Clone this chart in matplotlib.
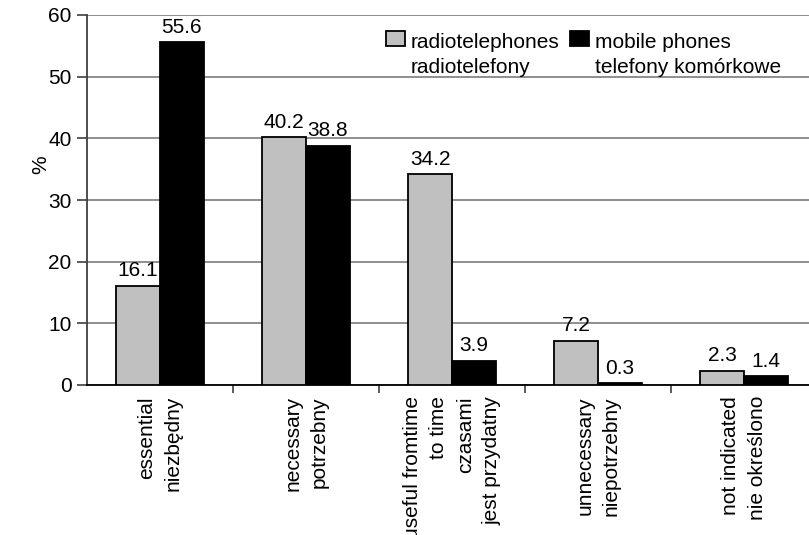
import numpy as np
import matplotlib.pyplot as plt
from matplotlib.patches import Rectangle
from matplotlib.container import BarContainer
from matplotlib.legend_handler import HandlerPatch

plt.rcParams['font.family'] = ['Liberation Sans', 'DejaVu Sans']

# Answer categories (English / Polish)
categories = [
    "essential\nniezbędny",
    "necessary\npotrzebny",
    "useful fromtime\nto time\nczasami\njest przydatny",
    "unnecessary\nniepotrzebny",
    "not indicated\nnie określono",
]
radio = [16.1, 40.2, 34.2, 7.2, 2.3]
mobile = [55.6, 38.8, 3.9, 0.3, 1.4]
series_names = ["radiotelephones\nradiotelefony", "mobile phones\ntelefony komórkowe"]

fs = 15
x = np.arange(len(categories))
w = 0.3

fig = plt.figure(figsize=(8.09, 5.35), dpi=100)
ax = fig.add_axes([87 / 809, 1 - 385 / 535, 730 / 809, 370 / 535])

b1 = ax.bar(x - w / 2, radio, w, color='#c0c0c0', edgecolor='black', linewidth=1.3,
            label=series_names[0], zorder=3)
b2 = ax.bar(x + w / 2, mobile, w, color='black', edgecolor='black', linewidth=1.3,
            label=series_names[1], zorder=3)
ax.bar_label(b1, fmt='%.1f', padding=4, fontsize=fs)
ax.bar_label(b2, fmt='%.1f', padding=4, fontsize=fs)

ax.set_xlim(-0.5, len(categories) - 0.5)
ax.set_ylim(0, 60)
ax.set_yticks(np.arange(0, 61, 10))
ax.yaxis.grid(True, color='#868686', linewidth=1.3, zorder=0)
ax.set_axisbelow(True)

# category labels at centers, tick marks at category boundaries
ax.set_xticks(x)
ax.set_xticklabels(categories, rotation=90, fontsize=fs, va='top', ha='center',
                   multialignment='right', linespacing=1.5)
ax.set_xticks(np.arange(0.5, len(categories) - 0.5, 1), minor=True)
ax.tick_params(axis='x', which='major', length=0, pad=8)
ax.tick_params(axis='x', which='minor', length=6, width=1.2, color='#404040')
ax.tick_params(axis='y', length=7, width=1.2, color='#404040', labelsize=fs, pad=4)

for side in ['top', 'right']:
    ax.spines[side].set_visible(False)
ax.spines['left'].set_color('#404040')
ax.spines['left'].set_linewidth(1.3)
ax.spines['bottom'].set_linewidth(1.3)

ax.set_ylabel('%', fontsize=fs)
ax.yaxis.set_label_coords(-0.05, 0.595)


def top_square(legend, orig_handle, xdescent, ydescent, width, height, fontsize):
    # keep the legend square level with the first line of a two-line label
    return Rectangle((-xdescent, -ydescent + fontsize * 0.8), width, height)


def from_first_bar(legend_handle, orig_handle):
    legend_handle.update_from(orig_handle[0])


leg = ax.legend(loc='upper left', bbox_to_anchor=(0.398, 0.975), ncol=2, frameon=False,
                fontsize=fs, handlelength=0.9, handleheight=0.75, handletextpad=0.3,
                columnspacing=0.5, borderaxespad=0,
                handler_map={BarContainer: HandlerPatch(patch_func=top_square,
                                                        update_func=from_first_bar)})
for t in leg.get_texts():
    t.set_linespacing(1.45)

fig.savefig('out.png', dpi=100)
